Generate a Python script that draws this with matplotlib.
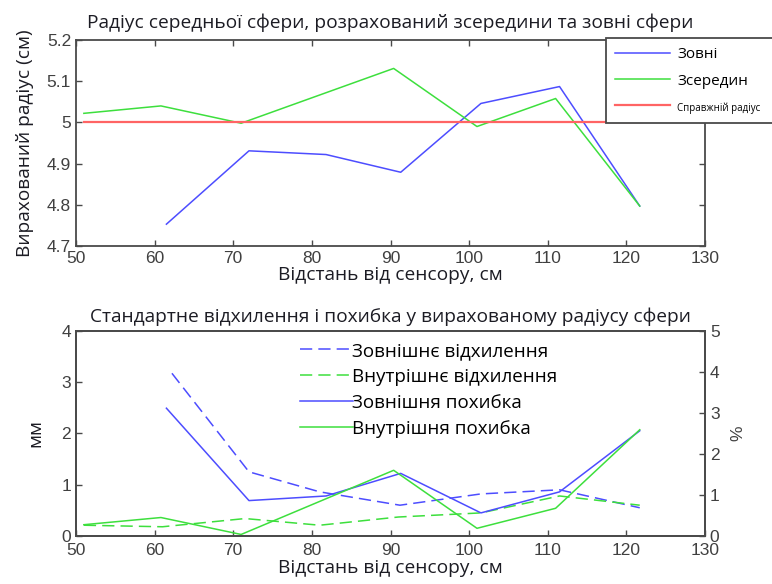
import matplotlib
matplotlib.use("Agg")
import matplotlib.pyplot as plt
from matplotlib.ticker import FormatStrFormatter

# radius of the middle sphere, computed from outside and inside
x_out = [61.5, 72, 81.8, 91.3, 101.5, 111.5, 121.7]
r_out = [4.753, 4.931, 4.922, 4.879, 5.046, 5.087, 4.797]
x_in = [51, 60.8, 71, 90.4, 101, 111, 121.7]
r_in = [5.022, 5.040, 4.998, 5.131, 4.990, 5.058, 4.797]
x_true = [51, 122]
r_true = [5.0, 5.0]

# standard deviation and error (mm)
x_sd_out = [62.2, 72, 81, 91.2, 101.5, 111.5, 121.7]
sd_out = [3.17, 1.25, 0.86, 0.60, 0.82, 0.90, 0.55]
x_sd_in = [51, 61, 71.5, 81, 91, 101.5, 111.5, 121.7]
sd_in = [0.21, 0.18, 0.34, 0.21, 0.37, 0.45, 0.78, 0.60]
err_out = [2.49, 0.69, 0.78, 1.22, 0.45, 0.86, 2.05]
err_in = [0.22, 0.36, 0.03, 1.28, 0.15, 0.54, 2.07]

blue = "#4d4dff"
green = "#3ddf3d"
red = "#ff6464"
spine_c = "#4a4a4a"
tick_c = "#404040"
text_c = "#1c1c24"
txt_font = ["Open Sans", "DejaVu Sans"]
num_font = ["Liberation Sans", "DejaVu Sans"]
lab_size = 13.8

fig = plt.figure(figsize=(7.72, 5.84), dpi=100)

def style_axes(ax, top=True, right=True):
    for s in ax.spines.values():
        s.set_color(spine_c)
        s.set_linewidth(1.3)
    ax.tick_params(direction="in", length=4, width=1, color=spine_c,
                   labelcolor=tick_c, labelsize=12.5, top=top, right=right)
    for lab in ax.get_xticklabels() + ax.get_yticklabels():
        lab.set_family(num_font)

# top plot
ax1 = fig.add_axes([76/772, 1-246/584, 629/772, 206/584])
ax1.plot(x_out, r_out, color=blue, lw=1.1, label="Зовні")
ax1.plot(x_in, r_in, color=green, lw=1.1, label="Зсередин")
ax1.plot(x_true, r_true, color=red, lw=1.6, label="Справжній радіус")
ax1.set_xlim(50, 130)
ax1.set_ylim(4.7, 5.2)
ax1.set_xticks(range(50, 131, 10))
ax1.set_yticks([4.7, 4.8, 4.9, 5.0, 5.1, 5.2])
ax1.yaxis.set_major_formatter(FormatStrFormatter("%g"))
style_axes(ax1)
ax1.set_title("Радіус середньої сфери, розрахований зсередини та зовні сфери",
              family=txt_font, fontsize=lab_size, color=text_c, pad=9)
ax1.set_xlabel("Відстань від сенсору, см", family=txt_font, fontsize=lab_size,
               color=text_c, labelpad=0)
ax1.set_ylabel("Вирахований радіус (см)", family=txt_font, fontsize=lab_size,
               color=text_c, labelpad=9)
leg1 = fig.legend(loc="upper left", bbox_to_anchor=(606/772, 0.5, 210/772, 1-38/584-0.5),
                  mode="expand", prop={"family": txt_font, "size": 11},
                  fancybox=False, framealpha=1, edgecolor=spine_c,
                  handlelength=3.6, handletextpad=0.45, labelspacing=0.75,
                  borderpad=0.6, borderaxespad=0)
leg1.get_frame().set_linewidth(1.3)
leg1.get_texts()[2].set_fontsize(7)

# bottom plot
ax2 = fig.add_axes([76/772, 1-536/584, 629/772, 205.3/584])
ax2.plot(x_sd_out, sd_out, color=blue, lw=1.1, dashes=(8, 4), label="Зовнішнє відхилення")
ax2.plot(x_sd_in, sd_in, color=green, lw=1.1, dashes=(8, 4), label="Внутрішнє відхилення")
ax2.plot(x_out, err_out, color=blue, lw=1.1, label="Зовнішня похибка")
ax2.plot(x_in, err_in, color=green, lw=1.1, label="Внутрішня похибка")
ax2.set_xlim(50, 130)
ax2.set_ylim(0, 4)
ax2.set_xticks(range(50, 131, 10))
ax2.set_yticks(range(0, 5))
style_axes(ax2, top=False, right=False)
ax2.tick_params(axis="x", pad=5)
ax2.set_title("Стандартне відхилення і похибка у вирахованому радіусу сфери",
              family=txt_font, fontsize=lab_size, color=text_c, pad=6)
ax2.set_xlabel("Відстань від сенсору, см", family=txt_font, fontsize=lab_size,
               color=text_c, labelpad=1)
ax2.set_ylabel("мм", family=txt_font, fontsize=lab_size, color=text_c, labelpad=12)

ax3 = ax2.twinx()
ax3.set_ylim(0, 5)
ax3.set_yticks(range(0, 6))
style_axes(ax3, top=False, right=True)
ax3.tick_params(left=False)
ax3.set_ylabel("%", family=num_font, fontsize=12.5, color=tick_c, labelpad=8)

ax2.legend(loc="upper left", bbox_to_anchor=(300/772, 1-342/584),
           bbox_transform=fig.transFigure, frameon=False,
           prop={"family": txt_font, "size": 13.5}, handlelength=2.8,
           handletextpad=0, labelspacing=0.42, borderpad=0, borderaxespad=0)

fig.savefig("out.png", dpi=100)
